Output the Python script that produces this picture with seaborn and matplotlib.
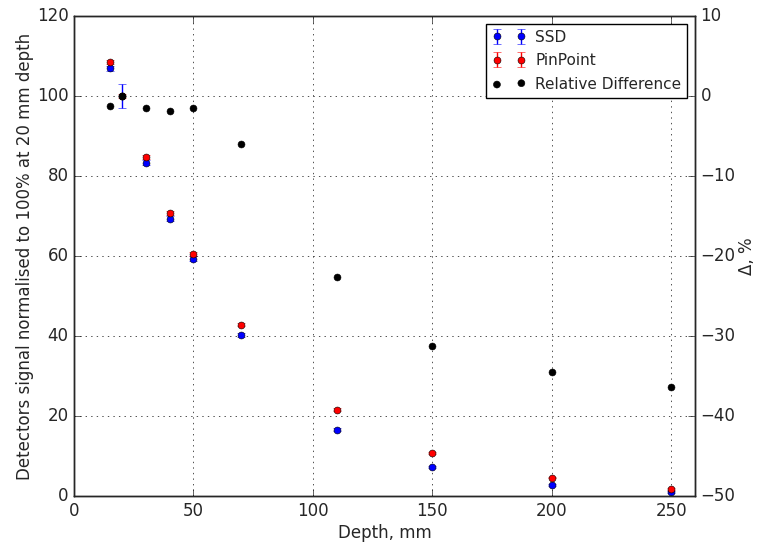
import numpy as np
import seaborn as sns
import pandas as pd
import matplotlib
matplotlib.use("Agg")
import matplotlib.pyplot as plt

depth = [15, 20, 30, 40, 50, 70, 110, 150, 200, 250]
ssd = [106.9, 100.0, 83.3, 69.3, 59.3, 40.3, 16.6, 7.3, 2.8, 1.0]
ssd_err = [0.6, 3.0, 0.6, 0.6, 0.6, 0.5, 0.4, 0.3, 0.3, 0.3]
pinpoint = [108.4, 100.0, 84.7, 70.8, 60.4, 42.8, 21.6, 10.8, 4.6, 1.8]
pinpoint_err = [0.5, 0.5, 0.5, 0.5, 0.5, 0.4, 0.3, 0.3, 0.2, 0.2]
rel_diff = [-1.3, 0.0, -1.5, -1.9, -1.5, -6.0, -22.6, -31.2, -34.5, -36.4]

plt.style.use("classic")
sns.set_style("ticks", {"xtick.direction": "in", "ytick.direction": "in"})
plt.rcParams["font.family"] = ["DejaVu Sans"]
plt.rcParams["font.size"] = 12

df = pd.DataFrame({"depth": depth, "rel": rel_diff})

fig = plt.figure(figsize=(7.57, 5.5), dpi=100, facecolor="white")
ax = fig.add_axes([0.0978, 0.0982, 0.8203, 0.8727])
ax.set_facecolor("white")

h1 = ax.errorbar(depth, ssd, yerr=ssd_err, fmt="o", color="blue", ecolor="blue",
                 mec="black", mew=0.4, ms=5, capsize=3, label="SSD")
h2 = ax.errorbar(depth, pinpoint, yerr=pinpoint_err, fmt="o", color="red", ecolor="red",
                 mec="black", mew=0.4, ms=5, capsize=3, label="PinPoint")
ax.set_xlim(0, 260)
ax.set_ylim(0, 120)
ax.set_xticks([0, 50, 100, 150, 200, 250])
ax.set_yticks(range(0, 121, 20))
ax.grid(True, color="black", linestyle=":", linewidth=0.6, alpha=0.8)
ax.set_xlabel("Depth, mm", fontsize=12, labelpad=3)
ax.set_ylabel("Detectors signal normalised to 100% at 20 mm depth", fontsize=12, labelpad=2)
ax.tick_params(direction="in", top=True, right=False, length=5, labelsize=12)
for s in ax.spines.values():
    s.set_color("black")
    s.set_linewidth(1)

ax2 = ax.twinx()
sns.scatterplot(data=df, x="depth", y="rel", ax=ax2, color="black", s=25,
                edgecolor="black", linewidth=0.4, legend=False)
ax2.set_ylim(-50, 10)
ax2.set_yticks(range(-50, 11, 10))
ax2.set_yticklabels(["\u221250", "\u221240", "\u221230", "\u221220", "\u221210", "0", "10"])
ax2.set_ylabel("\u0394, %", fontsize=12, labelpad=2)
ax2.set_xlabel("")
ax2.tick_params(direction="in", length=5, labelsize=12)
h3 = ax2.collections[0]
h3.set_label("Relative Difference")

leg = ax2.legend([h1, h2, h3], ["SSD", "PinPoint", "Relative Difference"],
                 loc="upper right", numpoints=2, scatterpoints=2, fancybox=False,
                 fontsize=11, frameon=True, borderaxespad=0.5, labelspacing=0.55,
                 handlelength=2.2, handletextpad=0.6)
leg.get_frame().set_edgecolor("black")
leg.get_frame().set_linewidth(1)

fig.savefig("out.png", dpi=100, facecolor="white")
